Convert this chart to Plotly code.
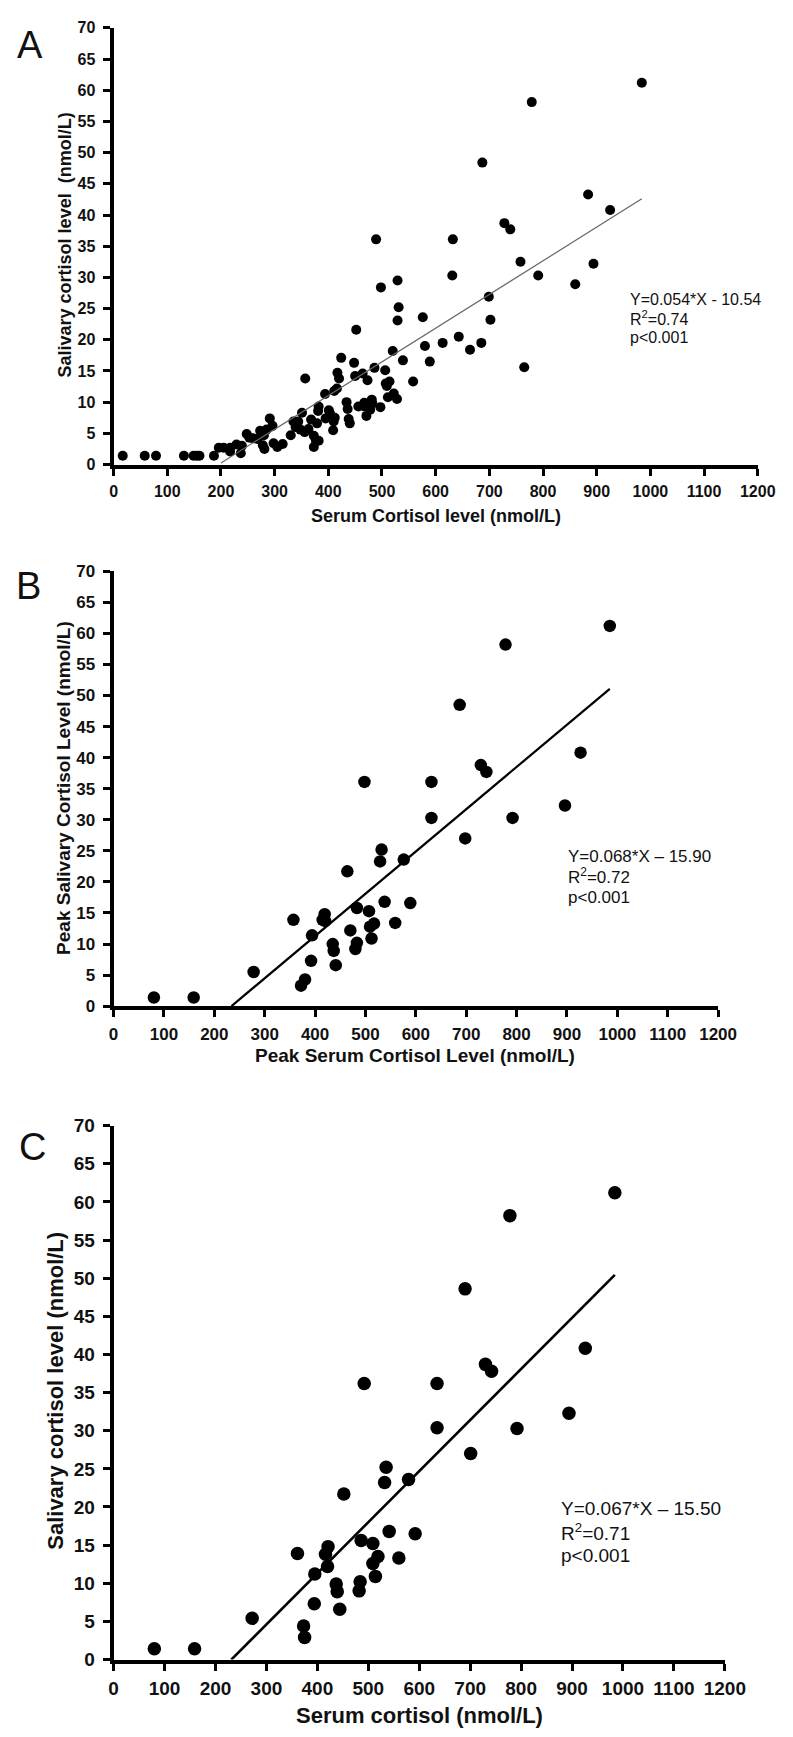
import plotly.graph_objects as go

# ---------------- data ----------------
# Panel A: serum vs salivary cortisol (all samples)
a_serum = [17, 58, 79, 131, 149, 155, 160, 187,
           196, 205, 217, 217, 229, 237, 239,
           248, 253, 260, 268, 273, 278, 280, 281, 285, 291, 296, 298, 305, 315,
           330, 335, 339, 344, 348, 351, 356, 357, 363, 368, 373, 373, 377, 379, 381, 382, 382,
           394, 395, 401, 403, 409, 410, 411, 412, 416,
           417, 420, 424, 434, 436, 438, 440, 448, 450, 452, 456, 464, 467, 467, 471, 473, 478,
           481, 482, 486, 489, 497, 498, 506, 507, 509, 511, 514, 520, 522, 528, 529, 529, 531,
           539, 558, 576, 580, 589, 613, 631, 632, 643, 664, 685, 687, 699, 702, 728, 739, 758,
           765, 779, 791, 860, 884, 894, 925, 984]
a_saliva = [1.4, 1.4, 1.4, 1.4, 1.4, 1.4, 1.4, 1.4,
            2.7, 2.7, 2.7, 2.1, 3.2, 1.8, 3.0,
            4.9, 4.3, 4.2, 4.1, 5.4, 3.1, 4.7, 2.5, 5.6, 7.4, 6.2, 3.4, 2.8, 3.3,
            4.7, 6.9, 6.0, 6.9, 5.6, 8.3, 5.2, 13.8, 5.7, 7.2, 4.6, 2.8, 3.8, 6.6, 8.6, 9.3, 3.8,
            11.3, 7.4, 8.7, 8.2, 5.5, 6.9, 11.8, 7.5, 12.2,
            14.7, 13.8, 17.1, 10.0, 8.9, 7.3, 6.6, 16.3, 14.2, 21.6, 9.3, 14.6, 9.3, 9.9, 7.8, 13.5, 8.8,
            10.4, 9.8, 15.5, 36.1, 9.2, 28.4, 15.1, 13.0, 12.6, 10.8, 13.3, 18.2, 11.4, 10.5, 29.5, 23.1, 25.2,
            16.7, 13.3, 23.6, 19.0, 16.5, 19.5, 30.3, 36.1, 20.5, 18.4, 19.5, 48.4, 26.9, 23.2, 38.7, 37.7, 32.5,
            15.6, 58.1, 30.3, 28.9, 43.3, 32.2, 40.8, 61.2]
a_slope, a_intercept = 0.054, -10.54
a_fit_x = [200, 984]

# Panel B: peak serum vs peak salivary cortisol
b_serum = [80, 159, 278, 357, 372, 380, 392, 394, 419, 415, 420, 435, 437, 441, 464, 470,
           480, 483, 483, 498, 507, 509, 517, 512, 529, 532, 538, 559, 576, 589, 631, 631,
           687, 698, 729, 740, 778, 792, 896, 927, 985]
b_saliva = [1.4, 1.4, 5.5, 13.9, 3.3, 4.3, 7.3, 11.4, 14.8, 13.9, 13.7, 10.0, 8.9, 6.6, 21.7, 12.2,
            9.2, 10.2, 15.8, 36.1, 15.3, 12.8, 13.3, 10.9, 23.3, 25.2, 16.8, 13.4, 23.6, 16.6, 36.1, 30.3,
            48.5, 27.0, 38.8, 37.7, 58.2, 30.3, 32.3, 40.8, 61.2]
b_slope, b_intercept = 0.068, -15.90
b_fit_x = [234, 985]

# Panel C: serum cortisol vs salivary cortisol
c_serum = [80, 159, 272, 361, 421, 416, 420, 395, 394, 373, 375, 437, 439, 444, 486, 509,
           484, 482, 519, 509, 514, 541, 560, 592, 690, 492, 635, 730, 742, 635, 701, 535,
           532, 579, 452, 778, 792, 894, 926, 984]
c_saliva = [1.4, 1.4, 5.4, 13.9, 14.8, 13.8, 12.2, 11.2, 7.3, 4.4, 2.9, 9.9, 8.9, 6.6, 15.6, 15.2,
            10.2, 9.0, 13.5, 12.6, 10.9, 16.8, 13.3, 16.5, 48.6, 36.2, 36.2, 38.7, 37.8, 30.4, 27.0, 25.2,
            23.2, 23.6, 21.7, 58.2, 30.3, 32.3, 40.8, 61.2]
c_slope, c_intercept = 0.067, -15.50
c_fit_x = [231, 984]

x_ticks = list(range(0, 1201, 100))
y_ticks = list(range(0, 71, 5))
x_tick_text = [str(v) for v in x_ticks]
y_tick_text = [str(v) for v in y_ticks]

# ---------------- layout helpers ----------------
W, H = 793, 1737
FONT = "Liberation Sans, Arial, sans-serif"
INK = "#111111"


def px(x):
    return x / W


def py(y):
    return 1 - y / H


panels = [
    dict(x=a_serum, y=a_saliva, slope=a_slope, icpt=a_intercept, fx=a_fit_x,
         xdom=(104, 770), ydom=(10, 452), msize=10, lw=1.2, lc="#666666",
         tick=16, ax="", ay=""),
    dict(x=b_serum, y=b_saliva, slope=b_slope, icpt=b_intercept, fx=b_fit_x,
         xdom=(104, 729), ydom=(560, 1000.3), msize=12.5, lw=2.2, lc="#000000",
         tick=17, ax="2", ay="2"),
    dict(x=c_serum, y=c_saliva, slope=c_slope, icpt=c_intercept, fx=c_fit_x,
         xdom=(104, 736), ydom=(1121.2, 1661.6), msize=13.5, lw=2.6, lc="#000000",
         tick=19, ax="3", ay="3"),
]

fig = go.Figure()
layout = dict(width=W, height=H, margin=dict(l=0, r=0, t=0, b=0),
              paper_bgcolor="white", plot_bgcolor="white", showlegend=False,
              font=dict(family=FONT, color=INK))

for p in panels:
    xa = "x" + p["ax"]
    ya = "y" + p["ay"]
    fig.add_trace(go.Scatter(x=p["x"], y=p["y"], mode="markers", xaxis=xa, yaxis=ya,
                             marker=dict(color="black", size=p["msize"], line=dict(width=0)),
                             cliponaxis=False, hoverinfo="skip"))
    fy = [p["slope"] * v + p["icpt"] for v in p["fx"]]
    fig.add_trace(go.Scatter(x=p["fx"], y=fy, mode="lines", xaxis=xa, yaxis=ya,
                             line=dict(color=p["lc"], width=p["lw"]), hoverinfo="skip"))
    common = dict(showgrid=False, zeroline=False, showline=True, linecolor="black",
                  linewidth=4, ticks="outside", tickwidth=3, tickcolor="black", ticklen=7,
                  tickfont=dict(family=FONT, size=p["tick"], color=INK))
    layout["xaxis" + p["ax"]] = dict(common, domain=[px(p["xdom"][0]), px(p["xdom"][1])],
                                     range=[0, 1200], tickvals=x_ticks,
                                     ticktext=["<b>%s</b>" % t for t in x_tick_text],
                                     anchor=ya, ticklabelstandoff=2)
    layout["yaxis" + p["ay"]] = dict(common, domain=[py(p["ydom"][1]), py(p["ydom"][0])],
                                     range=[0, 70], tickvals=y_ticks,
                                     ticktext=["<b>%s</b>" % t for t in y_tick_text],
                                     anchor=xa, ticklabelstandoff=4)

fig.update_layout(**layout)

annotations = []


def txt(text, x, y, size, bold=False, angle=0, xanchor="center"):
    annotations.append(dict(text=("<b>%s</b>" % text) if bold else text,
                            x=px(x), y=py(y), xref="paper", yref="paper",
                            showarrow=False, xanchor=xanchor, yanchor="middle",
                            textangle=angle,
                            font=dict(family=FONT, size=size, color=INK)))


# panel letters
txt("A", 18, 27, 38)
txt("B", 16, 575, 38)
txt("C", 20, 1143, 38)

# axis titles
txt("Serum Cortisol level (nmol/L)", 437, 504, 18, bold=True)
txt("Salivary cortisol level  (nmol/L)", 54, 230, 18, bold=True, angle=-90)
txt("Peak Serum Cortisol Level (nmol/L)", 416, 1050, 19, bold=True)
txt("Peak Salivary Cortisol Level (nmol/L)", 52, 779, 19, bold=True, angle=-90)
txt("Serum cortisol (nmol/L)", 420, 1718, 22, bold=True)
txt("Salivary cortisol level (nmol/L)", 44, 1390, 22, bold=True, angle=-90)

# regression statistics
txt("Y=0.054*X - 10.54", 636, 285, 16, xanchor="left")
txt("R<sup>2</sup>=0.74", 636, 304, 16, xanchor="left")
txt("p<0.001", 636, 323, 16, xanchor="left")
txt("Y=0.068*X \u2013 15.90", 572, 849, 17, xanchor="left")
txt("R<sup>2</sup>=0.72", 572, 869, 17, xanchor="left")
txt("p<0.001", 572, 890, 17, xanchor="left")
txt("Y=0.067*X \u2013 15.50", 565, 1509, 19, xanchor="left")
txt("R<sup>2</sup>=0.71", 565, 1533, 19, xanchor="left")
txt("p<0.001", 565, 1556, 19, xanchor="left")

fig.update_layout(annotations=annotations)
fig.write_html("out.html")
